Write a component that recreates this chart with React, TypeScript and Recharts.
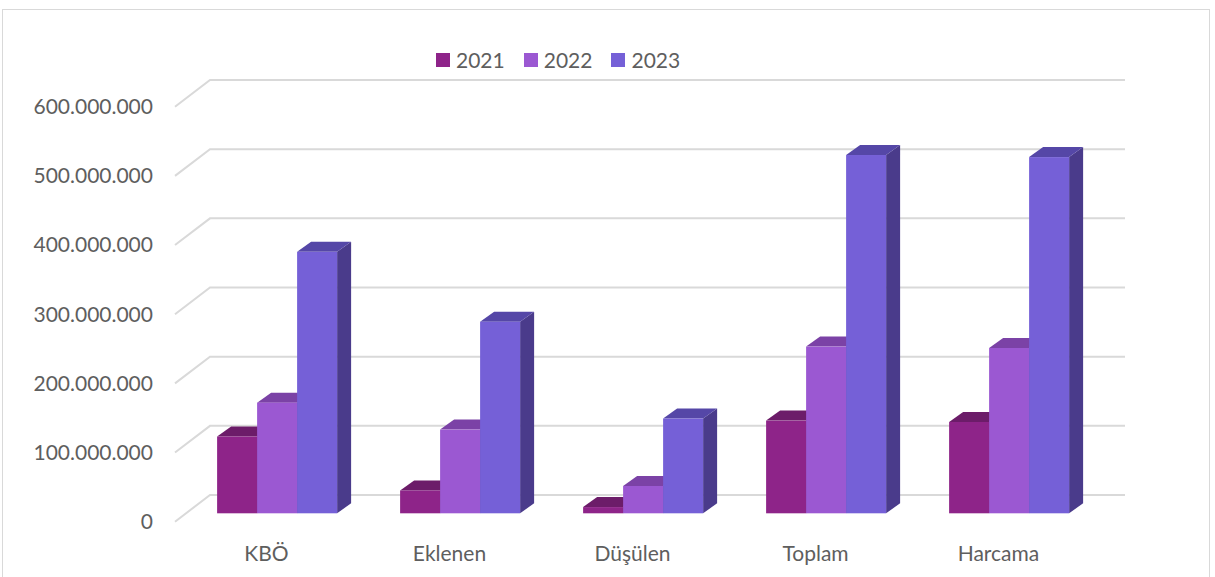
import React from "react";
import { BarChart, Bar, XAxis, YAxis, CartesianGrid, Legend } from "recharts";

const categories = ["KBÖ", "Eklenen", "Düşülen", "Toplam", "Harcama"];
const values2021 = [111000000, 33000000, 9000000, 134000000, 132000000];
const values2022 = [160000000, 121000000, 39500000, 241000000, 239000000];
const values2023 = [378000000, 277000000, 137000000, 518000000, 515000000];
const yTicks = [0, 100000000, 200000000, 300000000, 400000000, 500000000, 600000000];
const seriesNames = ["2021", "2022", "2023"];

const data = categories.map((c, i) => ({
  name: c,
  "2021": values2021[i],
  "2022": values2022[i],
  "2023": values2023[i],
}));

const COLORS = {
  "2021": { front: "#8E2489", top: "#6C1C69", side: "#5E185B" },
  "2022": { front: "#9B58D2", top: "#7B42A6", side: "#6A3A90" },
  "2023": { front: "#7560D7", top: "#5547A7", side: "#4A3B8B" },
};

// depth geometry (style)
const PLANE_DX = 35;
const PLANE_DY = 26.7;
const BAR_OFF_X = 11;
const BAR_OFF_Y = 8.4;
const BAR_DX = 14;
const BAR_DY = 10;

const FONT = "Lato, 'Open Sans', sans-serif";
const TEXT_COLOR = "#5E5E5E";

const make3DShape = (key: string) => (props: any) => {
  const { x, y, width, height } = props;
  if (width == null || height == null || isNaN(x) || isNaN(y)) return <g />;
  const c = (COLORS as any)[key];
  const fx = x + BAR_OFF_X;
  const fy = y - BAR_OFF_Y;
  const w = width;
  const h = Math.max(height, 0);
  const top = `${fx},${fy} ${fx + BAR_DX},${fy - BAR_DY} ${fx + w + BAR_DX},${fy - BAR_DY} ${fx + w},${fy}`;
  const side = `${fx + w},${fy} ${fx + w + BAR_DX},${fy - BAR_DY} ${fx + w + BAR_DX},${fy + h - BAR_DY} ${fx + w},${fy + h}`;
  return (
    <g>
      <polygon points={side} fill={c.side} />
      <polygon points={top} fill={c.top} />
      <rect x={fx} y={fy} width={w} height={h} fill={c.front} />
    </g>
  );
};

const gridLine = (props: any) => {
  const { x1, y1, x2, key } = props;
  const bx = x1 + PLANE_DX;
  const by = y1 - PLANE_DY;
  return (
    <polyline
      key={key}
      points={`${x1},${y1} ${bx},${by} ${x2 + PLANE_DX},${by}`}
      fill="none"
      stroke="#D9D9D9"
      strokeWidth={2}
    />
  );
};

const LegendContent = () => (
  <div style={{ display: "flex", alignItems: "center", fontFamily: FONT, fontSize: 21, color: TEXT_COLOR }}>
    {seriesNames.map((s, i) => (
      <div key={s} style={{ display: "flex", alignItems: "center", marginRight: i < 2 ? 19 : 0 }}>
        <div style={{ width: 14, height: 14, background: (COLORS as any)[s].front, marginRight: 6 }} />
        <span style={{ lineHeight: "24px" }}>{s}</span>
      </div>
    ))}
  </div>
);

const fmt = (v: number) => v.toLocaleString("de-DE");

export default function App() {
  return (
    <div style={{ position: "absolute", left: 0, top: 0, width: 1215, height: 577, overflow: "hidden", background: "#fff" }}>
      <div
        style={{
          position: "absolute",
          left: 2,
          top: 9,
          width: 1208,
          height: 620,
          border: "1px solid #D9D9D9",
          boxSizing: "border-box",
        }}
      />
      <div style={{ position: "absolute", left: 0, top: 0 }}>
        <BarChart
          width={1215}
          height={577}
          data={data}
          margin={{ top: 106.7, right: 125, bottom: 25.3, left: 0 }}
          barCategoryGap="17%"
          barGap={0}
        >
          <CartesianGrid vertical={false} horizontal={gridLine as any} />
          <XAxis
            dataKey="name"
            height={30}
            axisLine={false}
            tickLine={false}
            tickSize={0}
            tickMargin={24}
            tick={{ fill: TEXT_COLOR, fontSize: 21, fontFamily: FONT }}
            interval={0}
          />
          <YAxis
            width={175}
            domain={[0, 600000000]}
            ticks={yTicks}
            axisLine={false}
            tickLine={false}
            tickSize={0}
            tickMargin={22}
            tickFormatter={fmt}
            tick={{ fill: TEXT_COLOR, fontSize: 21, fontFamily: FONT }}
          />
          <Legend
            layout="horizontal"
            verticalAlign="middle"
            align="center"
            content={<LegendContent />}
            wrapperStyle={{ position: "absolute", left: 436, top: 48, width: "auto", height: "auto" }}
          />
          {seriesNames.map((s) => (
            <Bar key={s} dataKey={s} fill={(COLORS as any)[s].front} shape={make3DShape(s)} isAnimationActive={false} />
          ))}
        </BarChart>
      </div>
    </div>
  );
}
